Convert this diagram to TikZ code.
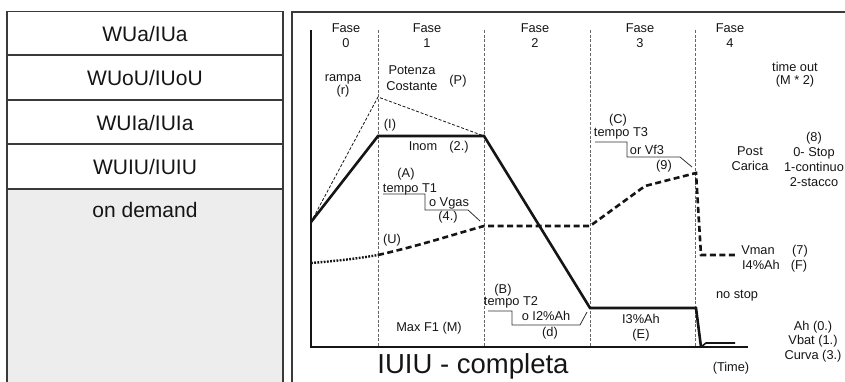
\documentclass[tikz,border=0pt]{standalone}
\usepackage{fontspec}
\setmainfont{Liberation Sans}
\usetikzlibrary{positioning}
\definecolor{CkInk}{HTML}{151515}
\definecolor{CkRule}{HTML}{3A3A3A}
\definecolor{CkPhase}{HTML}{666666}
\definecolor{CkShade}{HTML}{EDEDED}
\definecolor{CkLead}{HTML}{303030}
\tikzset{
  cell/.style={draw=CkRule,line width=1.2pt,minimum width=276pt,minimum height=43.3pt,
               inner sep=0pt,text=CkInk,font=\fontsize{21}{25}\selectfont,
               text height=17pt,text depth=0pt},
  cellgray/.style={cell,fill=CkShade,text height=28pt,text depth=192pt},
  frame/.style={draw=CkRule,line width=1.2pt},
  axis/.style={draw=CkInk,line width=2.6pt},
  phase/.style={draw=CkPhase,line width=0.75pt,dash pattern=on 3pt off 1.6pt},
  current/.style={draw=CkInk,line width=2.6pt},
  power/.style={draw=CkInk,line width=0.8pt,dash pattern=on 3pt off 1.8pt},
  volt/.style={draw=CkInk,line width=2.6pt,dash pattern=on 6pt off 3.5pt},
  voltdot/.style={draw=CkInk,line width=2.4pt,dash pattern=on 1.8pt off 1.4pt},
  leader/.style={draw=CkLead,line width=0.8pt},
  txt/.style={text=CkInk,font=\fontsize{12.8}{15}\selectfont,inner sep=0pt,anchor=base,align=center},
  txttight/.style={txt,font=\fontsize{12.8}{13}\selectfont},
  title/.style={text=CkInk,font=\fontsize{27.5}{32}\selectfont,inner sep=0pt,anchor=base},
}

\begin{document}
\begin{tikzpicture}[x=1pt,y=-1pt]
  \useasboundingbox (0,0) rectangle (845,382);
  \clip (0,0) rectangle (845,382);
  % mode list
  \node[cell] (wua) at (145,33) {WUa/IUa};
  \node[cell,below=0pt of wua] (wuou) {WUoU/IUoU};
  \node[cell,below=0pt of wuou] (wuia) {WUIa/IUIa};
  \node[cell,below=0pt of wuia] (wuiu) {WUIU/IUIU};
  \node[cellgray,below=0pt of wuiu] (demand) {on demand};
  % chart
  \draw[frame] (292,382) |- (845,12);
  \foreach \x in {378,484,590,695}
    \draw[phase] (\x,30) -- (\x,347);
  \coordinate (top) at (311,30);
  \coordinate (origin) at (311,347);
  \coordinate (tend) at (748,347);
  \foreach \x/\n in {346/0,427/1,535/2,640/3,730/4}{
    \node[txt] (fase\n) at (\x,33) {Fase};
    \node[txt] (faseno\n) at (\x,48) {\n};
  }
  % current, power, voltage
  \coordinate (istart) at (311,222);
  \coordinate (ipeak) at (378,136);
  \coordinate (inomend) at (484,136);
  \coordinate (ithree) at (590,308);
  \coordinate (ithreeend) at (696,308);
  \coordinate (idrop) at (701,347);
  \coordinate (irise) at (706,343);
  \coordinate (iend) at (735,343);
  \coordinate (ppeak) at (378,97);
  \coordinate (ustart) at (311,263);
  \coordinate (uone) at (378,255);
  \coordinate (ugas) at (484,226);
  \coordinate (uflat) at (590,226);
  \coordinate (ubend) at (645,186);
  \coordinate (ufinal) at (696,173);
  \coordinate (udrop) at (701,255);
  \coordinate (umaint) at (737,255);
  \draw[power] (istart) -- (ppeak) -- (inomend);
  \draw[voltdot] (ustart) .. controls (335,261) and (355,259) .. (uone);
  \draw[volt] (uone) .. controls (422,245) and (455,234) .. (ugas) -- (uflat)
    -- (ubend) -- (ufinal) -- (udrop) -- (umaint);
  \draw[current] (istart) -- (ipeak) -- (inomend) -- (ithree) -- (ithreeend) -- (idrop);
  \draw[current,line width=1.6pt] (idrop) -- (irise) -- (iend);
  \draw[axis] (top) -- (origin) -- (tend);
  % leaders
  \draw[leader] (383,194) -- (425,194) -- (425,210) -- (468,210) -- (480,221);
  \draw[leader] (488,311) -- (512,311) -- (512,325) -- (580,325) -- (587,312);
  \draw[leader] (595,142) -- (627,142) -- (627,157) -- (680,157) -- (692,167);
  % labels (multi-line ones sit on their last line)
  \node[txttight] (rampa) at (343,95) {rampa\\(r)};
  \node[txt,font=\fontsize{12.8}{16}\selectfont] (potenza) at (412,91) {Potenza\\Costante};
  \node[txt] (pmark) at (458,85) {(P)};
  \node[txt] (imark) at (390,129) {(I)};
  \node[txt] (inom) at (423,151) {Inom};
  \node[txt] (inomno) at (459,151) {(2.)};
  \node[txt] (amark) at (406,178) {(A)};
  \node[txt] (tempoa) at (410,192) {tempo T1};
  \node[txt] (vgas) at (449,206) {o Vgas};
  \node[txt] (vgasno) at (448,220) {(4.)};
  \node[txt] (umark) at (392,243) {(U)};
  \node[txt] (maxf) at (429,331) {Max F1 (M)};
  \node[txt] (bmark) at (503,293) {(B)};
  \node[txt] (tempob) at (511,305) {tempo T2};
  \node[txt] (itwo) at (546,320) {o I2\%Ah};
  \node[txt] (dmark) at (550,336) {(d)};
  \node[txt] (cmark) at (618,124) {(C)};
  \node[txt] (tempoc) at (621,137) {tempo T3};
  \node[txt] (vfthree) at (647,155) {or Vf3};
  \node[txt] (vfno) at (664,169) {(9)};
  \node[txttight] (timeout) at (795,85) {time out\\(M * 2)};
  \node[txt] (stopmode) at (814,186) {(8)\\0- Stop\\1-continuo\\2-stacco};
  \node[txt] (post) at (750,171) {Post\\Carica};
  \node[txt] (vman) at (758,254) {Vman};
  \node[txt] (vmanno) at (800,254) {(7)};
  \node[txt] (ifour) at (761,269) {I4\%Ah};
  \node[txt] (fmark) at (799,269) {(F)};
  \node[txt] (nostop) at (737,298) {no stop};
  \node[txt] (ithreelbl) at (641,338) {I3\%Ah\\(E)};
  \node[txt,font=\fontsize{12.8}{14.5}\selectfont] (ahlist) at (813,359) {Ah (0.)\\Vbat (1.)\\Curva (3.)};
  \node[txt] (time) at (731,371) {(Time)};
  \node[title] (curvename) at (473,373) {IUIU - completa};
\end{tikzpicture}
\end{document}
